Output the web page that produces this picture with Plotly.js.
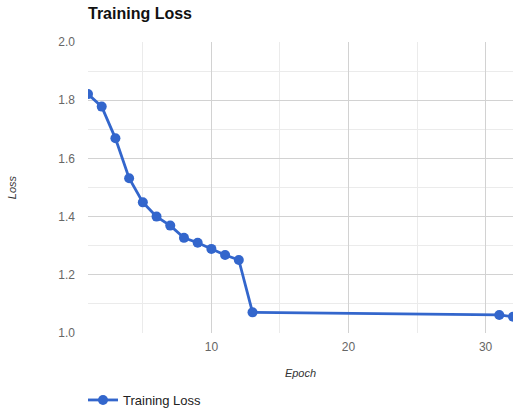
<!DOCTYPE html>
<html>
<head>
<meta charset="utf-8">
<script src="https://cdn.plot.ly/plotly-3.0.1.min.js"></script>
<style>html,body{margin:0;padding:0;background:#fff;}#chart{width:519px;height:409px;}</style>
</head>
<body>
<div id="chart"></div>
<script>
const epochs = [1, 2, 3, 4, 5, 6, 7, 8, 9, 10, 11, 12, 13, 31, 32];
const loss = [1.821, 1.778, 1.669, 1.532, 1.449, 1.400, 1.369, 1.327, 1.310, 1.289, 1.268, 1.251, 1.071, 1.062, 1.056];
const seriesName = "Training Loss";
const xTicks = [10, 20, 30];
const yTicks = [1.0, 1.2, 1.4, 1.6, 1.8, 2.0];

const font = "Arial, 'Liberation Sans', sans-serif";
const trace = {
  x: epochs, y: loss, name: seriesName, type: "scatter", mode: "lines+markers",
  line: {color: "#3366cc", width: 2.8},
  marker: {color: "#3366cc", size: 10}
};
const layout = {
  width: 519, height: 409,
  margin: {l: 88, r: 6, t: 42, b: 76, autoexpand: false},
  paper_bgcolor: "#fff", plot_bgcolor: "#fff",
  font: {family: font, size: 12, color: "#666"},
  title: {text: "<b>Training Loss</b>", x: 88/519, xanchor: "left", y: 1 - 13/409, yanchor: "middle",
          font: {family: font, size: 16, color: "#111"}},
  xaxis: {
    range: [1, 32], tickvals: xTicks, ticktext: xTicks.map(String),
    showgrid: true, gridcolor: "#d2d2d2", gridwidth: 1,
    minor: {tickvals: [5, 15, 25], showgrid: true, gridcolor: "#ebebeb", gridwidth: 1},
    zeroline: false, showline: false, ticks: "", ticklabelstandoff: 5,
    title: {text: "<i>Epoch</i>", font: {family: font, size: 11, color: "#333"}, standoff: 16},
    automargin: false
  },
  yaxis: {
    range: [1.0, 2.0], tickvals: yTicks, ticktext: yTicks.map(v => v.toFixed(1)),
    showgrid: true, gridcolor: "#d2d2d2", gridwidth: 1,
    minor: {tickvals: [1.1, 1.3, 1.5, 1.7, 1.9], showgrid: true, gridcolor: "#ebebeb", gridwidth: 1},
    zeroline: false, showline: false, ticks: "", ticklabelstandoff: 12,
    title: {text: "<i>Loss</i>", font: {family: font, size: 11, color: "#333"}, standoff: 39},
    automargin: false
  },
  showlegend: true,
  legend: {orientation: "h", x: -5/425, xanchor: "left", y: -67/291, yanchor: "middle",
           font: {family: font, size: 13, color: "#222"}, bgcolor: "rgba(0,0,0,0)"}
};
Plotly.newPlot("chart", [trace], layout, {displayModeBar: false, staticPlot: true});
</script>
</body>
</html>
